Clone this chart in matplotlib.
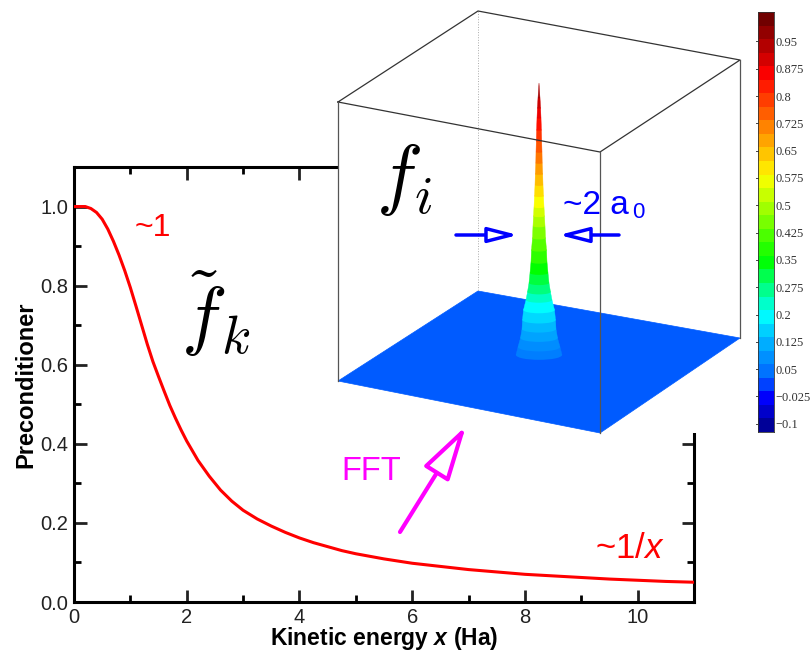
import matplotlib
matplotlib.use("Agg")
import matplotlib.pyplot as plt
from matplotlib.colors import LinearSegmentedColormap, Normalize
from matplotlib.patches import Ellipse, Polygon, Rectangle
import numpy as np

plt.rcParams['font.family'] = ['Liberation Sans', 'DejaVu Sans']
plt.rcParams['mathtext.fontset'] = 'cm'
plt.rcParams['mathtext.bfit'] = 'Liberation Sans:italic:bold'
plt.rcParams['mathtext.it'] = 'Liberation Sans:italic'

# curve
energy = [0, 0.1, 0.2, 0.3, 0.4, 0.5, 0.6, 0.7, 0.8, 0.9, 1.0, 1.1, 1.2, 1.3, 1.4, 1.5, 1.6, 1.7, 1.8, 1.9, 2.0,
          2.2, 2.4, 2.6, 2.8, 3.0, 3.25, 3.5, 3.75, 4, 4.25, 4.5, 4.75, 5, 5.5, 6, 6.5, 7, 7.5, 8, 8.5, 9, 9.5, 10, 10.5, 11]
precond = [1.0, 1.0, 1.0, 0.995, 0.985, 0.968, 0.943, 0.912, 0.877, 0.838, 0.795, 0.748, 0.70, 0.652, 0.608, 0.57, 0.533, 0.497, 0.465, 0.435, 0.407,
           0.358, 0.318, 0.283, 0.255, 0.232, 0.21, 0.192, 0.176, 0.162, 0.15, 0.14, 0.13, 0.122, 0.109, 0.098, 0.09, 0.082, 0.076, 0.07, 0.066, 0.062, 0.058, 0.055, 0.052, 0.05]

xticks = [0, 2, 4, 6, 8, 10]
yticks = [0.0, 0.2, 0.4, 0.6, 0.8, 1.0]

# colour bar
cbar_ticks = [-0.1, -0.025, 0.05, 0.125, 0.2, 0.275, 0.35, 0.425, 0.5, 0.575, 0.65, 0.725, 0.8, 0.875, 0.95]
cbar_labels = ['\u22120.1', '\u22120.025', '0.05', '0.125', '0.2', '0.275', '0.35', '0.425', '0.5', '0.575', '0.65', '0.725', '0.8', '0.875', '0.95']
cbar_edges = [-0.1225 + 0.0372 * i for i in range(32)]

# 3D box, in picture pixels
floor_x = [338, 478, 740, 600]
floor_y = [381, 291, 338, 433]
top_x = [338, 478, 740, 600]
top_y = [102, 11, 60, 152]

# peak: height, then where it sits in the picture
peak_z = [0.06, 0.08, 0.105, 0.13, 0.1625, 0.2, 0.2375, 0.275, 0.3125, 0.35, 0.3875, 0.425, 0.4625, 0.5, 0.5375, 0.575, 0.6125, 0.65, 0.6875, 0.725, 0.7625, 0.8, 0.8375, 0.875, 0.9125, 0.95, 1.0]
peak_y = [355, 347, 338, 329, 320, 310, 300, 292, 283, 273, 262, 250, 238, 226, 216, 207, 196, 185, 174, 163, 152, 141, 130, 118, 108, 98, 83]
peak_hw = [23, 21, 18.5, 17, 16.5, 15.5, 13, 11.5, 10, 9, 8, 7.5, 6.5, 6, 5.5, 5, 4.5, 4, 3.7, 3.2, 3, 2.7, 2.4, 2, 1.6, 1, 0]
peak_x = 539

W, H = 811, 652
fig = plt.figure(figsize=(W / 100, H / 100), dpi=100)

ax = fig.add_axes([74 / W, 1 - 602 / H, 620 / W, 435 / H])
ax.plot(energy, precond, color='#ff0000', lw=2.2, zorder=3)
ax.set_xlim(0, 11)
ax.set_ylim(0, 1.1)
ax.set_xticks(xticks)
ax.set_yticks(yticks)
ax.set_yticklabels(['0.0', '0.2', '0.4', '0.6', '0.8', '1.0'])
ax.set_xticks(range(1, 11, 2), minor=True)
ax.set_yticks([0.1, 0.3, 0.5, 0.7, 0.9], minor=True)
ax.tick_params(which='major', direction='in', length=9, width=2, top=True, right=True, labelsize=14.5, pad=4, colors='#222222')
ax.tick_params(which='minor', direction='in', length=5, width=2, top=True, right=True)
for s in ax.spines.values():
    s.set_linewidth(2.2)
ax.set_xlabel('Kinetic energy $\\mathbfit{x}$ (Ha)', fontsize=16.5, fontweight='bold', labelpad=-1, math_fontfamily='custom')
ax.set_ylabel('Preconditioner', fontsize=17, fontweight='bold', labelpad=2)

# overlay in picture pixels for the pasted 3D inset
ov = fig.add_axes([0, 0, 1, 1], facecolor='none')
ov.set_xlim(0, W)
ov.set_ylim(H, 0)
ov.axis('off')

cmap = LinearSegmentedColormap.from_list('tec', [
    (0.0, '#00007f'), (0.08, '#0000ff'), (0.124, '#0060ff'), (0.15, '#0078ff'), (0.215, '#00b4ff'), (0.28, '#00ffff'),
    (0.408, '#00ff00'), (0.608, '#ffff00'), (0.85, '#ff0000'), (1.0, '#600000')])
norm = Normalize(cbar_edges[0], cbar_edges[-1])

ov.add_patch(Rectangle((338, 60), 402, 373, fc='white', ec='none', zorder=1))
ov.add_patch(Polygon(list(zip(top_x[:3], top_y[:3])), fc='white', ec='none', zorder=1))
ov.add_patch(Polygon(list(zip(floor_x, floor_y)), fc=cmap(norm(0.02)), ec=cmap(norm(0.02)), lw=0.5, zorder=2))

# peak bands from the bottom up
for i in range(len(peak_z) - 1):
    col = cmap(norm(peak_z[i]))
    y0, y1 = peak_y[i], peak_y[i + 1]
    w0, w1 = peak_hw[i], peak_hw[i + 1]
    ov.add_patch(Polygon([(peak_x - w0, y0), (peak_x + w0, y0), (peak_x + w1, y1), (peak_x - w1, y1)], fc=col, ec=col, lw=0.3, zorder=3))
    ov.add_patch(Ellipse((peak_x, y0), 2 * w0, 0.42 * w0, fc=col, ec='none', zorder=3))

# box edges
edge = '#555555'
ov.plot(top_x + top_x[:1], top_y + top_y[:1], color='#333333', lw=0.9, zorder=4)
ov.plot([338, 338], [102, 381], color=edge, lw=0.9, zorder=4)
ov.plot([600, 600], [152, 433], color=edge, lw=0.9, zorder=4)
ov.plot([740, 740], [60, 338], color=edge, lw=0.9, zorder=4)
ov.plot([478, 478], [11, 291], color='#aaaaaa', lw=0.7, ls=':', zorder=2)

# text and arrows
ov.text(153, 228, '~1', color='#ff0000', fontsize=23, ha='center', va='center', zorder=5)
ov.text(630, 549, '~1/$\\mathit{x}$', color='#ff0000', fontsize=25, ha='center', va='center', math_fontfamily='custom', zorder=5)
ov.text(216, 314, '$\\tilde{f}_k$', fontsize=55, ha='center', va='center', zorder=5)
ov.text(404, 180, '$f_i$', fontsize=56, ha='center', va='center', zorder=5)
ov.text(371, 471, 'FFT', color='#ff00ff', fontsize=23.5, ha='center', va='center', zorder=5)
ov.text(596, 205, '~2 a', color='#0000ff', fontsize=24, ha='center', va='center', zorder=5)
ov.text(638, 213, '0', color='#0000ff', fontsize=16, ha='center', va='center', zorder=5)

blue_arrow = dict(arrowstyle='-|>,head_length=0.9,head_width=0.23', color='#0000ff', fc='white', lw=2.5, shrinkA=0, shrinkB=0, mutation_scale=20)
ov.annotate('', xy=(518, 235), xytext=(456, 235), arrowprops=blue_arrow, zorder=5)
ov.annotate('', xy=(559, 235), xytext=(619, 235), arrowprops=blue_arrow, zorder=5)
ov.annotate('', xy=(466, 426), xytext=(400, 532), zorder=5,
            arrowprops=dict(arrowstyle='-|>,head_length=1.3,head_width=0.35', color='#ff00ff', fc='white', lw=3, shrinkA=0, shrinkB=0, mutation_scale=26))

# colour bar
cax = fig.add_axes([758 / W, 1 - 432 / H, 16 / W, 420 / H])
edges = np.array(cbar_edges)
mids = (edges[:-1] + edges[1:]) / 2
cax.pcolormesh([0, 1], edges, mids[:, None], cmap=cmap, norm=norm)
cax.set_xticks([])
cax.yaxis.tick_right()
cax.set_yticks(cbar_ticks)
cax.set_yticklabels(cbar_labels, family='Liberation Serif', fontsize=9, color='#333333')
cax.tick_params(axis='y', length=0, pad=1)
for t in cbar_ticks:
    cax.plot([-0.15, 0], [t, t], color='#444444', lw=0.7, clip_on=False)
cax.set_xlim(0, 1)
cax.set_ylim(edges[0], edges[-1])
for s in cax.spines.values():
    s.set_linewidth(0.6)
    s.set_color('#333333')

fig.savefig('out.png', dpi=100)
